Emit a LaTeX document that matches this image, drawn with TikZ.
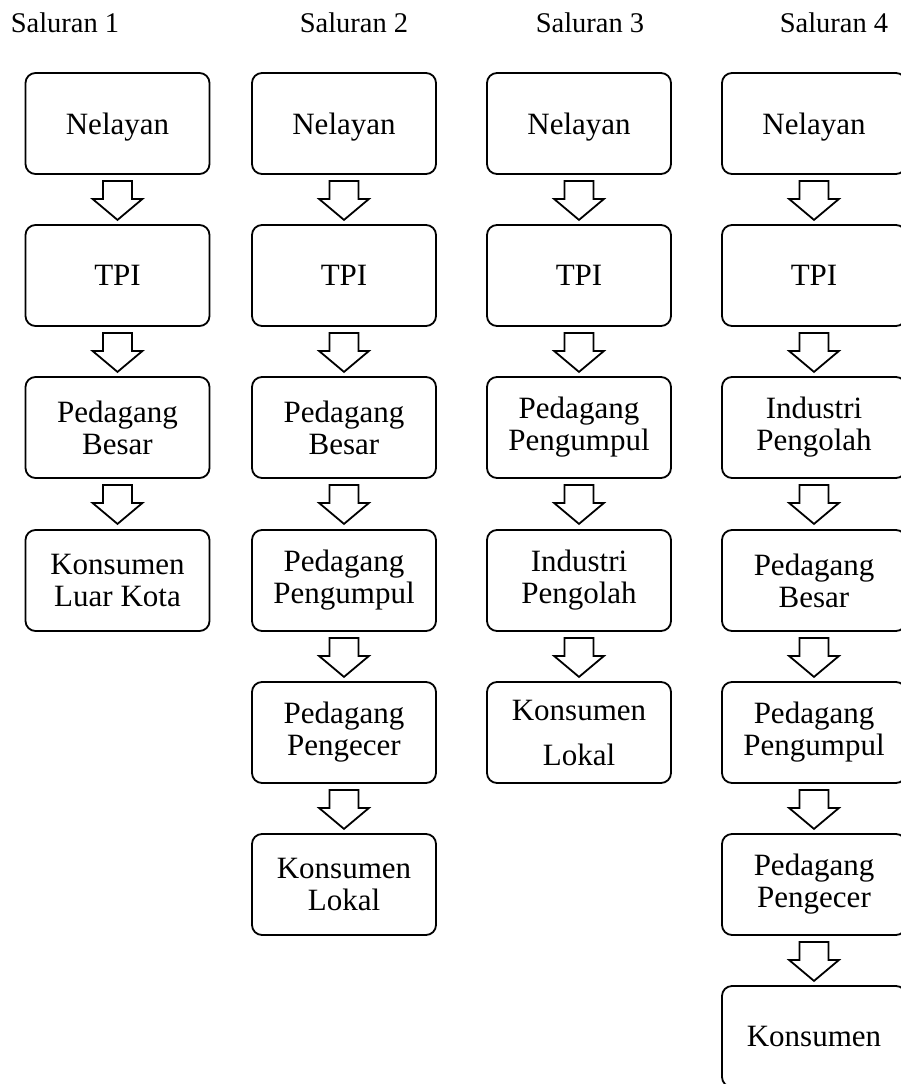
\documentclass[tikz,border=0pt]{standalone}
\usepackage{fontspec}
\setmainfont{Liberation Serif}
\usetikzlibrary{calc}
\tikzset{
  box/.style={draw, line width=1.8pt, rounded corners=10pt, minimum width=184pt, minimum height=101pt,
    inner sep=0pt, align=center, font=\fontsize{31}{32}\selectfont},
  nodepth/.style={text depth=0pt},
  head/.style={anchor=base, font=\fontsize{28.5}{30}\selectfont},
  blockarrow/.style={draw, line width=1.8pt, line join=miter, fill=white}
}
\newcommand{\blkarrow}[1]{%
  \draw[blockarrow] ($(#1.south)+(0,6)$) ++(-14.5,0) -- ++(29,0) -- ++(0,18) -- ++(10.5,0)
    -- ++(-25,21) -- ++(-25,-21) -- ++(10.5,0) -- cycle;}
\begin{document}
\begin{tikzpicture}[x=1pt,y=-1pt]
\useasboundingbox (0,0) rectangle (901,1084);
\clip (0,0) rectangle (901,1084);
% headers
\node[head] (h1) at (65,32) {Saluran 1};
\node[head] (h2) at (354,32) {Saluran 2};
\node[head] (h3) at (590,32) {Saluran 3};
\node[head] (h4) at (834,32) {Saluran 4};
% column 1
\node[box,nodepth] (a1) at (117.5,123.5) {Nelayan};
\node[box] (a2) at (117.5,275.5) {TPI};
\node[box] (a3) at (117.5,427.5) {Pedagang\\Besar};
\node[box] (a4) at (117.5,580.5) {Konsumen\\Luar Kota};
% column 2
\node[box,nodepth] (b1) at (344,123.5) {Nelayan};
\node[box] (b2) at (344,275.5) {TPI};
\node[box] (b3) at (344,427.5) {Pedagang\\Besar};
\node[box] (b4) at (344,580.5) {Pedagang\\Pengumpul};
\node[box] (b5) at (344,732.5) {Pedagang\\Pengecer};
\node[box] (b6) at (344,884.5) {Konsumen\\Lokal};
% column 3
\node[box,nodepth] (c1) at (579,123.5) {Nelayan};
\node[box] (c2) at (579,275.5) {TPI};
\node[box] (c3) at (579,427.5) {Pedagang\\Pengumpul};
\node[box] (c4) at (579,580.5) {Industri\\Pengolah};
\node[box] (c5) at (579,732.5) {Konsumen\\[13pt]Lokal};
% column 4
\node[box,nodepth] (d1) at (814,123.5) {Nelayan};
\node[box] (d2) at (814,275.5) {TPI};
\node[box] (d3) at (814,427.5) {Industri\\Pengolah};
\node[box] (d4) at (814,580.5) {Pedagang\\Besar};
\node[box] (d5) at (814,732.5) {Pedagang\\Pengumpul};
\node[box] (d6) at (814,884.5) {Pedagang\\Pengecer};
\node[box] (d7) at (814,1036.5) {Konsumen};
% arrows
\foreach \n in {a1,a2,a3,b1,b2,b3,b4,b5,c1,c2,c3,c4,d1,d2,d3,d4,d5,d6}{\blkarrow{\n}}
\end{tikzpicture}
\end{document}
